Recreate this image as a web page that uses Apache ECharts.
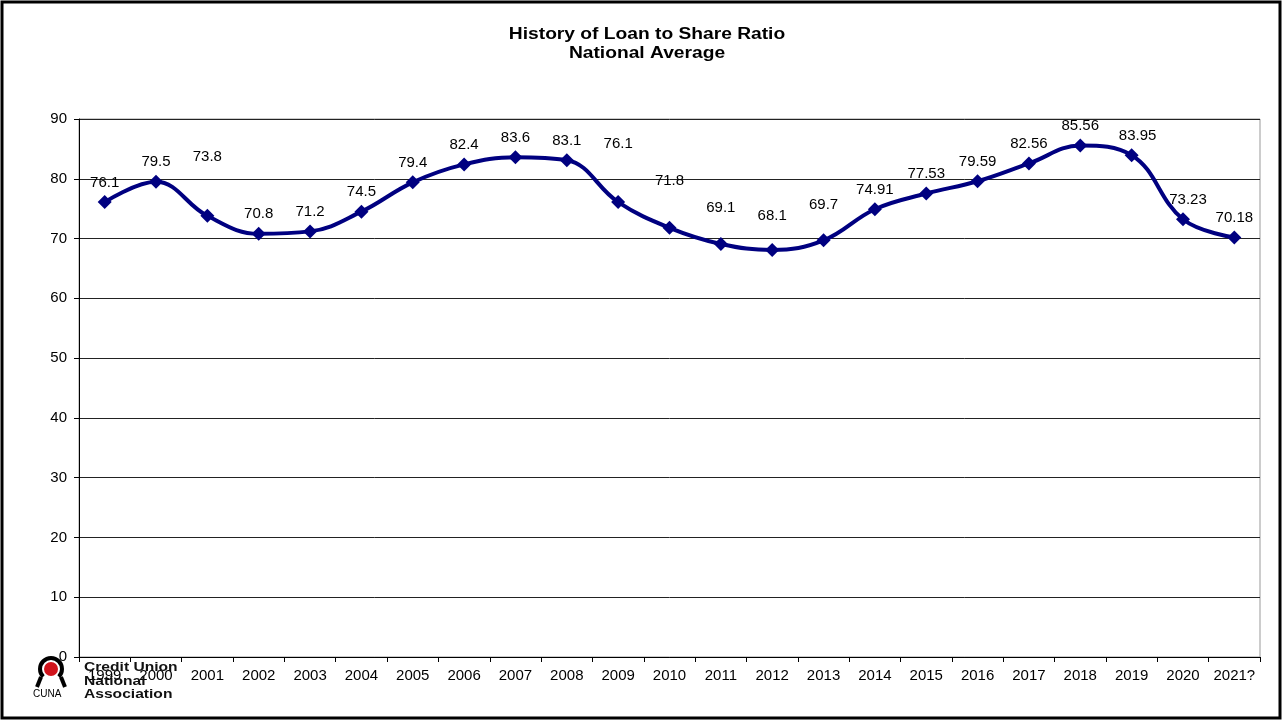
<!DOCTYPE html>
<html><head><meta charset="utf-8">
<script src="https://cdn.jsdelivr.net/npm/echarts@6/dist/echarts.min.js"></script>
<style>html,body{margin:0;padding:0;background:#fff}#c{width:1285px;height:721px}</style>
</head><body><div id="c"></div>
<script>
const years = ['1999','2000','2001','2002','2003','2004','2005','2006','2007','2008','2009','2010','2011','2012','2013','2014','2015','2016','2017','2018','2019','2020','2021?'];
const ratio = [76.1,79.5,73.8,70.8,71.2,74.5,79.4,82.4,83.6,83.1,76.1,71.8,69.1,68.1,69.7,74.91,77.53,79.59,82.56,85.56,83.95,73.23,70.18];
const yTicks = {min:0, max:90, interval:10};
const titleLines = ['History of Loan to Share Ratio','National Average'];
const logoText = ['Credit Union','National','Association'];

// label style tweaks (extra lift in px per index)
const labelShift = {2:[0,-39],10:[0,-39],11:[0,-27],12:[0,-17],13:[0,-15],14:[0,-16],20:[6,0],21:[5,0]};

const font = 'Liberation Sans, Arial, sans-serif';
const chart = echarts.init(document.getElementById('c'), null, {renderer:'canvas'});
const data = ratio.map((v,i)=>{
  const o = {value:v};
  if (labelShift[i]) o.label = {offset: labelShift[i]};
  return o;
});
chart.setOption({
  animation:false,
  backgroundColor:'#fff',
  grid:{left:79, right:25, top:119, bottom:64, show:true, borderColor:'#999', borderWidth:1},
  xAxis:{type:'category', data:years, boundaryGap:true,
    axisLine:{lineStyle:{color:'#000', width:1}},
    axisTick:{show:true, length:5, interval:0, lineStyle:{color:'#000'}},
    axisLabel:{color:'#000', fontFamily:font, fontSize:15, margin:11, interval:0, hideOverlap:false}},
  yAxis:{type:'value', min:yTicks.min, max:yTicks.max, interval:yTicks.interval,
    axisLine:{show:true, lineStyle:{color:'#000', width:1}},
    axisTick:{show:true, length:5, lineStyle:{color:'#000'}},
    splitLine:{lineStyle:{color:'#222', width:1}},
    axisLabel:{color:'#000', fontFamily:font, fontSize:15, margin:12}},
  series:[{type:'line', data:data, smooth:0.4, symbol:'diamond', symbolSize:[14,14],
    lineStyle:{color:'#000080', width:4}, itemStyle:{color:'#000080'},
    label:{show:true, position:'top', distance:5, color:'#000', fontFamily:font, fontSize:15},
    z:5}],
  graphic:[
    {type:'rect', shape:{x:2,y:2,width:1278,height:716}, style:{fill:'none', stroke:'#000', lineWidth:3}, z:100},
    {type:'text', x:647, y:35, scaleX:1.2, style:{text:titleLines[0], x:0, y:0, align:'center', verticalAlign:'middle', fill:'#000', font:'bold 16px '+font}, z:50},
    {type:'text', x:647, y:54, scaleX:1.2, style:{text:titleLines[1], x:0, y:0, align:'center', verticalAlign:'middle', fill:'#000', font:'bold 16px '+font}, z:50},
    // CUNA logo approximation
    {type:'circle', shape:{cx:51, cy:669, r:7}, style:{fill:'#d0131b'}, z:50},
    {type:'arc', shape:{cx:51, cy:669, r:11, startAngle:Math.PI*0.75, endAngle:Math.PI*2.25}, style:{stroke:'#000', lineWidth:4, fill:'none'}, z:50},
    {type:'line', shape:{x1:41, y1:677, x2:37, y2:687}, style:{stroke:'#000', lineWidth:4}, z:50},
    {type:'line', shape:{x1:61, y1:677, x2:65, y2:687}, style:{stroke:'#000', lineWidth:4}, z:50},
    {type:'text', style:{text:'CUNA', x:33, y:689, fill:'#000', font:'10px '+font}, z:50},
    {type:'text', x:84, y:661, scaleX:1.2, style:{text:logoText.join('\n'), x:0, y:0, fill:'#111', font:'bold 13px '+font, lineHeight:13.5}, z:50}
  ]
});
</script></body></html>
